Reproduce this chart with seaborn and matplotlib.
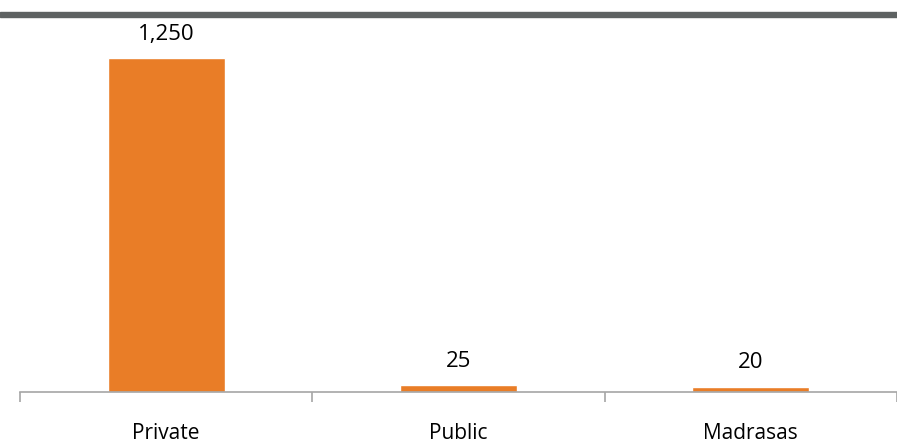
"""
Number of schools by type (bar chart recreation).
"""
import matplotlib
matplotlib.use('Agg')
import matplotlib.pyplot as plt
import matplotlib.patches as mpatches
import pandas as pd
import seaborn as sns

categories = ['Private', 'Public', 'Madrasas']
values = [1250, 25, 20]
value_labels = ['1,250', '25', '20']

BAR_COLOR = '#E97D27'
AXIS_COLOR = '#A6A6A6'

data = pd.DataFrame({'Type': categories, 'Count': values})

sns.set_style('white')
plt.rcParams['font.family'] = ['Open Sans', 'DejaVu Sans']

fig = plt.figure(figsize=(8.97, 4.42), dpi=100)
ax = fig.add_axes([20 / 897, 50 / 442, 1 - 20 / 897, 367 / 442])

sns.barplot(data=data, x='Type', y='Count', color=BAR_COLOR,
            width=0.4, saturation=1, ax=ax)

ax.set_xlim(-0.5, 2.5)
ax.set_ylim(0, 1373.6)

for i, lab in enumerate(value_labels):
    ax.annotate(lab, (i, values[i]), xytext=(0, 9.5), textcoords='offset points',
                ha='center', va='bottom', fontsize=16, color='black')

for side in ['top', 'right', 'left']:
    ax.spines[side].set_visible(False)
ax.spines['bottom'].set_color(AXIS_COLOR)
ax.spines['bottom'].set_linewidth(1.2)
ax.set_yticks([])
ax.set_xlabel(None)
ax.set_ylabel(None)

ax.set_xticks([-0.5, 0.5, 1.5, 2.5], minor=True)
ax.tick_params(axis='x', which='minor', length=7, width=1.2, color=AXIS_COLOR,
               direction='out', bottom=True)
ax.tick_params(axis='x', which='major', length=0, pad=22, labelsize=15,
               labelcolor='black')

# grey rule under the (cropped) title
fig.patches.append(mpatches.Rectangle((0, 1 - 16.5 / 442), 1, 5 / 442,
                                      transform=fig.transFigure,
                                      color='#5E6262', zorder=5))

fig.savefig('out.png', dpi=100)
